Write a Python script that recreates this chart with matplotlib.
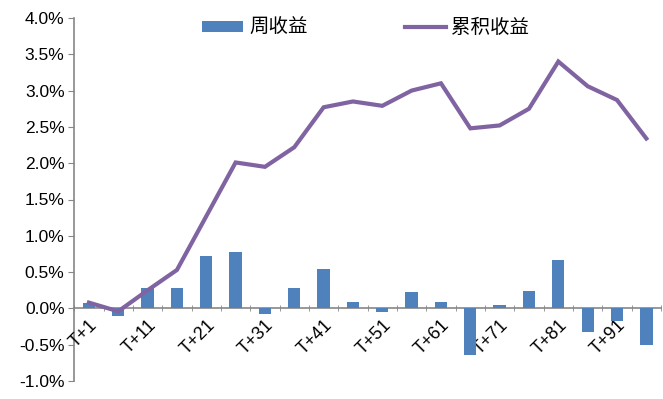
import matplotlib
matplotlib.use("Agg")
import matplotlib.pyplot as plt
import numpy as np
from matplotlib.ticker import FuncFormatter, FixedLocator

BAR_BLUE = "#4F81BD"
LINE_PURPLE = "#8064A2"
AXIS_GRAY = "#868686"

plt.rcParams["font.family"] = ["Liberation Sans", "Noto Sans CJK SC", "DejaVu Sans"]

# weekly and cumulative returns, in percent, one point every 5 periods
periods = [f"T+{i}" for i in range(1, 100, 5)]
weekly = [0.08, -0.11, 0.28, 0.28, 0.72, 0.78, -0.07, 0.28, 0.54, 0.09,
          -0.05, 0.22, 0.09, -0.64, 0.05, 0.24, 0.66, -0.32, -0.18, -0.51]
cumulative = [0.08, -0.04, 0.25, 0.53, 1.27, 2.01, 1.95, 2.22, 2.77, 2.85,
              2.79, 3.00, 3.10, 2.48, 2.52, 2.75, 3.40, 3.06, 2.87, 2.34]
y_ticks = [-1.0, -0.5, 0.0, 0.5, 1.0, 1.5, 2.0, 2.5, 3.0, 3.5, 4.0]

fig = plt.figure(figsize=(6.63, 3.99), dpi=100)
ax = fig.add_axes([0.112, 0.045, 0.885, 0.91])

x = np.arange(len(periods))
bars = ax.bar(x, weekly, width=0.42, color=BAR_BLUE, label="周收益", zorder=2)
line, = ax.plot(x, cumulative, color=LINE_PURPLE, lw=3, label="累积收益",
                solid_joinstyle="miter", zorder=3)

ax.set_xlim(-0.5, len(periods) - 0.5)
ax.set_ylim(-1.0, 4.0)
ax.set_yticks(y_ticks)
ax.yaxis.set_major_formatter(FuncFormatter(lambda v, _: f"{v:.1f}%"))

for side in ("top", "right"):
    ax.spines[side].set_visible(False)
ax.spines["bottom"].set_position(("data", 0))
for side in ("left", "bottom"):
    ax.spines[side].set_color(AXIS_GRAY)
    ax.spines[side].set_linewidth(1.2)
    ax.spines[side].set_zorder(1)

# labels on every other category, boundary tick marks
ax.set_xticks(x[::2])
ax.set_xticklabels(periods[::2], rotation=45, ha="right", va="top",
                   rotation_mode="anchor", fontsize=13)
ax.xaxis.set_minor_locator(FixedLocator(np.arange(-0.5, len(periods), 1.0)))
ax.tick_params(axis="x", which="major", length=0, pad=6)
ax.tick_params(axis="x", which="minor", length=5, color=AXIS_GRAY, direction="inout")
ax.tick_params(axis="y", length=4, color=AXIS_GRAY, labelsize=12.5, pad=3)

ax.legend([bars, line], ["周收益", "累积收益"], loc="upper center",
          bbox_to_anchor=(0.497, 1.045), ncol=2, frameon=False,
          fontsize=14, handlelength=2.1, handleheight=0.55, columnspacing=5.0,
          handletextpad=0.3)

fig.savefig("out.png", dpi=100)
